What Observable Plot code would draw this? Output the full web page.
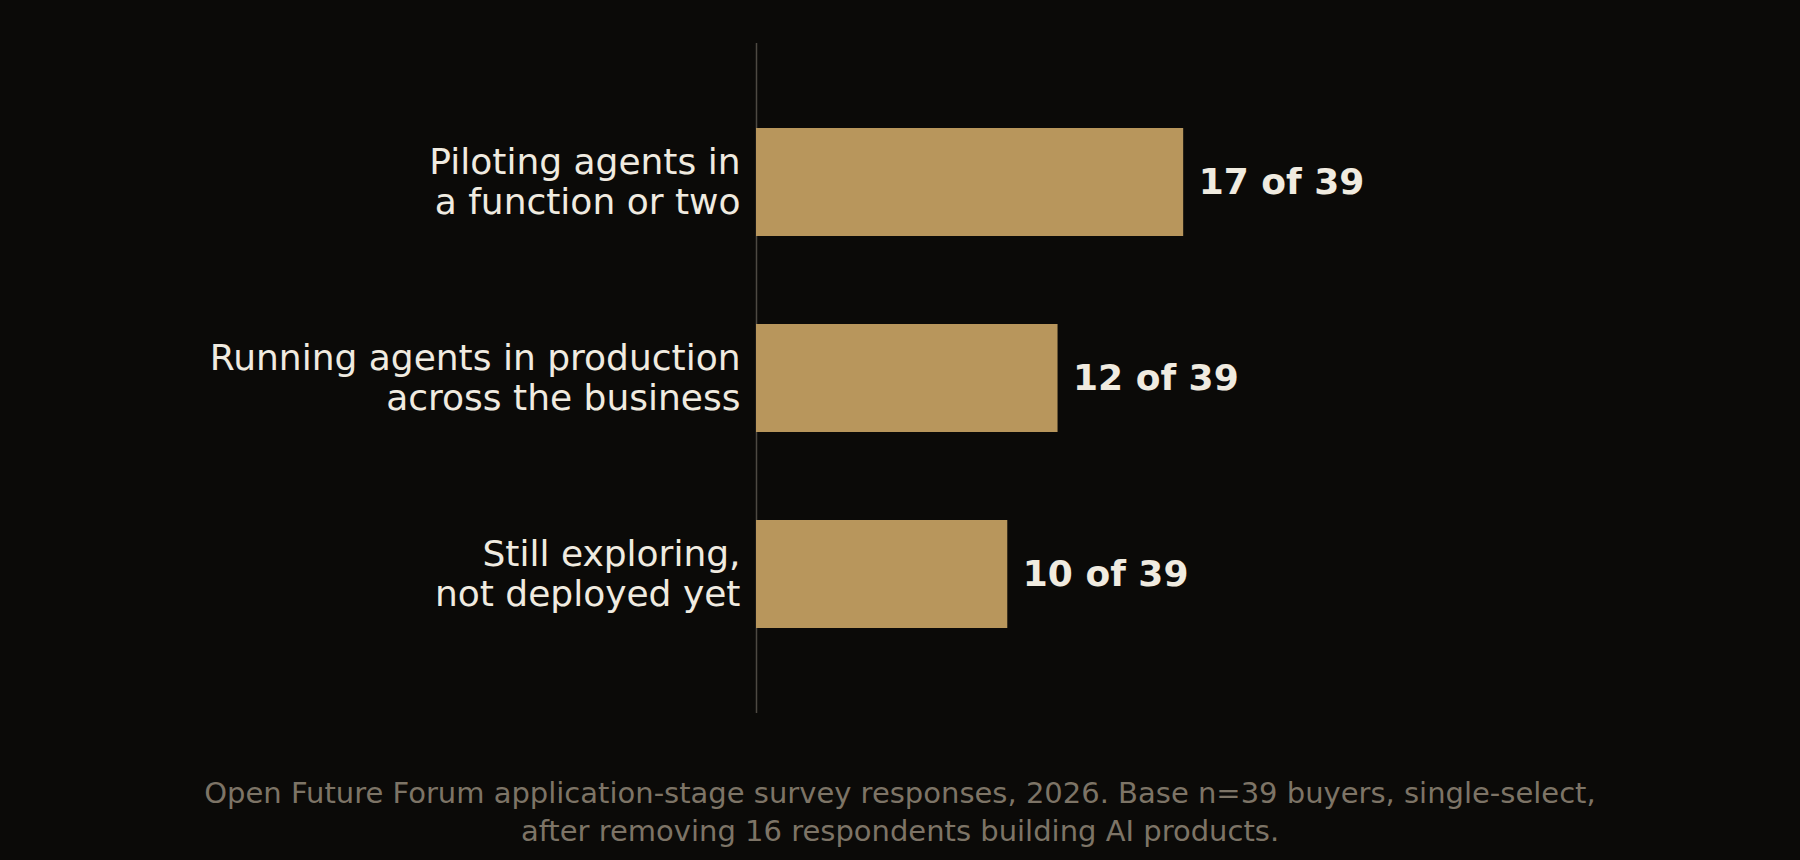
<!DOCTYPE html>
<html>
<head>
<meta charset="utf-8">
<script src="https://cdn.jsdelivr.net/npm/d3@7"></script>
<script src="https://cdn.jsdelivr.net/npm/@observablehq/plot@0.6"></script>
<style>
  html, body { margin: 0; padding: 0; background: #0b0a08; }
  body { width: 1800px; height: 860px; overflow: hidden; font-family: "DejaVu Sans", sans-serif; }
  #chart svg { display: block; }
  #caption {
    margin-top: 34px;
    text-align: center;
    color: #7d7466;
    font-size: 29px;
    line-height: 38px;
    font-family: "DejaVu Sans", sans-serif;
  }
</style>
</head>
<body>
<div id="chart"></div>
<div id="caption"></div>
<script>
const categories = [
  "Piloting agents in\na function or two",
  "Running agents in production\nacross the business",
  "Still exploring,\nnot deployed yet"
];
const counts = [17, 12, 10];
const total = 39;
const captionLines = [
  "Open Future Forum application-stage survey responses, 2026. Base n=39 buyers, single-select,",
  "after removing 16 respondents building AI products."
];

const data = categories.map((label, i) => ({label, value: counts[i]}));

const chart = Plot.plot({
  width: 1800,
  height: 740,
  marginTop: 43,
  marginBottom: 27,
  marginLeft: 756,
  marginRight: 64,
  style: {background: "#0b0a08", fontFamily: "DejaVu Sans, sans-serif", color: "#f0ebe0"},
  x: {domain: [0, total], axis: null},
  y: {domain: categories, axis: null, paddingInner: 0.45, paddingOuter: 0.43},
  marks: [
    Plot.ruleX([0], {stroke: "#4d4942", strokeWidth: 1.5}),
    Plot.barX(data, {x: "value", y: "label", fill: "#b8965c"}),
    Plot.text(data, {
      x: 0, y: "label", text: "label",
      textAnchor: "end", dx: -16, dy: -1.5,
      fontSize: 36, lineHeight: 1.11, fill: "#f0ebe0"
    }),
    Plot.text(data, {
      x: "value", y: "label", text: d => `${d.value} of ${total}`,
      textAnchor: "start", dx: 15,
      fontSize: 36, fontWeight: "bold", fill: "#f0ebe0"
    })
  ]
});
document.getElementById("chart").appendChild(chart);
const cap = document.getElementById("caption");
captionLines.forEach(t => { const d = document.createElement("div"); d.textContent = t; cap.appendChild(d); });
</script>
</body>
</html>
